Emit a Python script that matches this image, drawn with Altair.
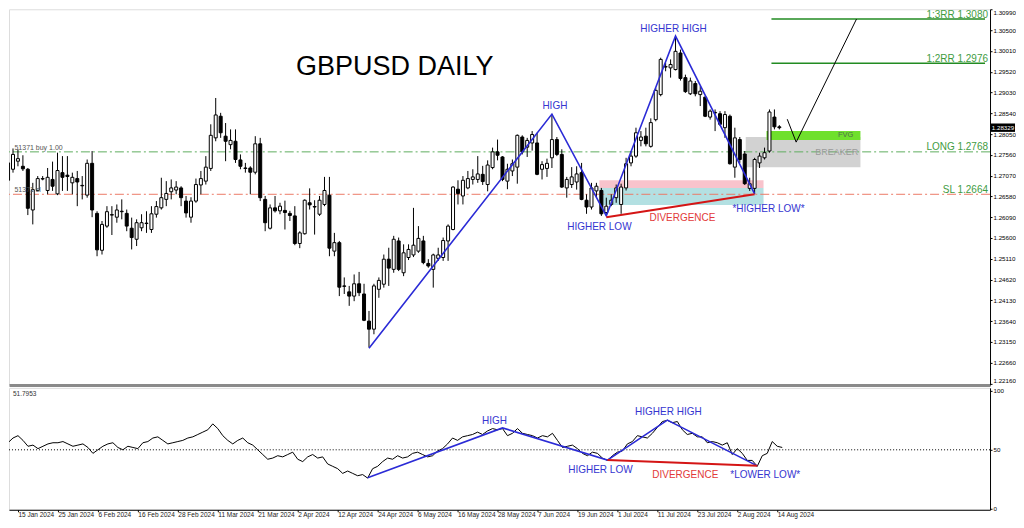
import altair as alt
import pandas as pd

# ---------------- data ----------------
FIRST_INDEX = -3  # trading-day index of first candle (0 = 15 Jan 2024)

OPEN = [1.2696, 1.2722, 1.2741, 1.2729, 1.2722, 1.2626, 1.2672, 1.2699, 1.2672, 1.2698,
        1.2664, 1.2714, 1.2708, 1.2690, 1.2700, 1.2684, 1.2661, 1.2736, 1.2618, 1.2531,
        1.2588, 1.2615, 1.2609, 1.2622, 1.2618, 1.2583, 1.2557, 1.2584, 1.2595, 1.2580,
        1.2616, 1.2631, 1.2651, 1.2669, 1.2673, 1.2678, 1.2647, 1.2609, 1.2647, 1.2685,
        1.2694, 1.2724, 1.2796, 1.2847, 1.2800, 1.2780, 1.2788, 1.2744, 1.2725, 1.2725,
        1.2715, 1.2782, 1.2651, 1.2583, 1.2631, 1.2624, 1.2625, 1.2618, 1.2612, 1.2547,
        1.2570, 1.2643, 1.2634, 1.2616, 1.2639, 1.2661, 1.2529, 1.2549, 1.2447, 1.2433,
        1.2423, 1.2452, 1.2428, 1.2364, 1.2345, 1.2439, 1.2451, 1.2510, 1.2486, 1.2553,
        1.2478, 1.2514, 1.2520, 1.2529, 1.2553, 1.2500, 1.2486, 1.2512, 1.2514, 1.2553,
        1.2580, 1.2675, 1.2659, 1.2678, 1.2698, 1.2698, 1.2710, 1.2686, 1.2726, 1.2763,
        1.2751, 1.2694, 1.2718, 1.2727, 1.2798, 1.2774, 1.2784, 1.2784, 1.2722, 1.2724,
        1.2749, 1.2792, 1.2757, 1.2678, 1.2686, 1.2692, 1.2714, 1.2649, 1.2633, 1.2671,
        1.2672, 1.2620, 1.2639, 1.2655, 1.2639, 1.2678, 1.2737, 1.2753, 1.2790, 1.2800,
        1.2776, 1.2839, 1.2898, 1.2963, 1.2961, 1.2957, 1.2996, 1.2938, 1.2900, 1.2924,
        1.2898, 1.2892, 1.2845, 1.2856, 1.2853, 1.2820, 1.2847, 1.2727, 1.2792, 1.2758,
        1.2677, 1.2677, 1.2737, 1.2749, 1.2765, 1.2845, 1.2822]
HIGH = [1.2745, 1.2771, 1.2769, 1.2755, 1.2725, 1.2690, 1.2706, 1.2706, 1.2725, 1.2740,
        1.2761, 1.2753, 1.2753, 1.2714, 1.2718, 1.2706, 1.2745, 1.2765, 1.2623, 1.2600,
        1.2635, 1.2635, 1.2639, 1.2651, 1.2627, 1.2608, 1.2604, 1.2616, 1.2623, 1.2635,
        1.2647, 1.2702, 1.2694, 1.2698, 1.2694, 1.2682, 1.2659, 1.2656, 1.2700, 1.2718,
        1.2753, 1.2828, 1.2890, 1.2855, 1.2831, 1.2816, 1.2816, 1.2757, 1.2737, 1.2729,
        1.2800, 1.2796, 1.2659, 1.2639, 1.2659, 1.2643, 1.2648, 1.2624, 1.2635, 1.2576,
        1.2651, 1.2677, 1.2649, 1.2659, 1.2704, 1.2704, 1.2572, 1.2553, 1.2467, 1.2447,
        1.2474, 1.2480, 1.2452, 1.2388, 1.2452, 1.2467, 1.2521, 1.2537, 1.2565, 1.2561,
        1.2545, 1.2545, 1.2631, 1.2588, 1.2565, 1.2510, 1.2523, 1.2537, 1.2561, 1.2592,
        1.2682, 1.2696, 1.2706, 1.2718, 1.2722, 1.2753, 1.2730, 1.2743, 1.2773, 1.2792,
        1.2753, 1.2735, 1.2745, 1.2804, 1.2802, 1.2796, 1.2812, 1.2808, 1.2741, 1.2747,
        1.2852, 1.2798, 1.2769, 1.2704, 1.2727, 1.2729, 1.2737, 1.2663, 1.2690, 1.2690,
        1.2678, 1.2655, 1.2663, 1.2686, 1.2688, 1.2749, 1.2765, 1.2820, 1.2812, 1.2820,
        1.2842, 1.2914, 1.2985, 1.2973, 1.2981, 1.3036, 1.3004, 1.2945, 1.2938, 1.2930,
        1.2918, 1.2894, 1.2863, 1.2863, 1.2859, 1.2859, 1.2851, 1.2820, 1.2798, 1.2765,
        1.2702, 1.2749, 1.2761, 1.2773, 1.2863, 1.2863, 1.2826]
LOW = [1.2690, 1.2714, 1.2729, 1.2718, 1.2614, 1.2592, 1.2671, 1.2696, 1.2663, 1.2671,
       1.2661, 1.2671, 1.2671, 1.2663, 1.2635, 1.2651, 1.2655, 1.2609, 1.2517, 1.2521,
       1.2584, 1.2567, 1.2596, 1.2604, 1.2576, 1.2533, 1.2541, 1.2576, 1.2572, 1.2572,
       1.2608, 1.2627, 1.2635, 1.2651, 1.2663, 1.2635, 1.2608, 1.2596, 1.2643, 1.2663,
       1.2686, 1.2718, 1.2788, 1.2796, 1.2741, 1.2769, 1.2737, 1.2722, 1.2714, 1.2663,
       1.2710, 1.2647, 1.2576, 1.2580, 1.2620, 1.2616, 1.2580, 1.2600, 1.2543, 1.2536,
       1.2568, 1.2627, 1.2568, 1.2612, 1.2635, 1.2517, 1.2517, 1.2423, 1.2428, 1.2400,
       1.2411, 1.2423, 1.2364, 1.2302, 1.2333, 1.2419, 1.2443, 1.2447, 1.2478, 1.2482,
       1.2470, 1.2508, 1.2515, 1.2525, 1.2498, 1.2490, 1.2443, 1.2506, 1.2506, 1.2506,
       1.2578, 1.2639, 1.2639, 1.2675, 1.2686, 1.2690, 1.2685, 1.2670, 1.2722, 1.2743,
       1.2694, 1.2675, 1.2706, 1.2688, 1.2757, 1.2751, 1.2766, 1.2708, 1.2698, 1.2704,
       1.2725, 1.2753, 1.2678, 1.2655, 1.2678, 1.2674, 1.2649, 1.2617, 1.2627, 1.2655,
       1.2612, 1.2612, 1.2635, 1.2643, 1.2617, 1.2672, 1.2729, 1.2749, 1.2776, 1.2776,
       1.2773, 1.2835, 1.2894, 1.2953, 1.2938, 1.2955, 1.2931, 1.2902, 1.2897, 1.2894,
       1.2871, 1.2845, 1.2839, 1.2812, 1.2824, 1.2796, 1.2733, 1.2702, 1.2737, 1.2685,
       1.2671, 1.2664, 1.2725, 1.2745, 1.2761, 1.2816, 1.2816]
CLOSE = [1.2737, 1.2757, 1.2747, 1.2723, 1.2630, 1.2674, 1.2700, 1.2700, 1.2703, 1.2682,
         1.2719, 1.2703, 1.2705, 1.2703, 1.2692, 1.2683, 1.2736, 1.2626, 1.2532, 1.2592,
         1.2622, 1.2614, 1.2626, 1.2623, 1.2588, 1.2561, 1.2596, 1.2596, 1.2594, 1.2617,
         1.2634, 1.2655, 1.2665, 1.2678, 1.2680, 1.2655, 1.2619, 1.2647, 1.2686, 1.2700,
         1.2727, 1.2802, 1.2850, 1.2808, 1.2788, 1.2790, 1.2745, 1.2729, 1.2724, 1.2715,
         1.2782, 1.2655, 1.2596, 1.2631, 1.2624, 1.2635, 1.2620, 1.2613, 1.2547, 1.2572,
         1.2649, 1.2638, 1.2633, 1.2649, 1.2672, 1.2536, 1.2549, 1.2444, 1.2446, 1.2423,
         1.2452, 1.2431, 1.2366, 1.2345, 1.2447, 1.2460, 1.2510, 1.2489, 1.2557, 1.2486,
         1.2525, 1.2533, 1.2543, 1.2559, 1.2502, 1.2494, 1.2520, 1.2520, 1.2554, 1.2588,
         1.2680, 1.2665, 1.2696, 1.2700, 1.2704, 1.2711, 1.2693, 1.2732, 1.2763, 1.2755,
         1.2698, 1.2722, 1.2735, 1.2802, 1.2763, 1.2790, 1.2804, 1.2710, 1.2733, 1.2736,
         1.2792, 1.2757, 1.2680, 1.2698, 1.2704, 1.2711, 1.2651, 1.2633, 1.2678, 1.2682,
         1.2617, 1.2635, 1.2649, 1.2678, 1.2680, 1.2735, 1.2753, 1.2808, 1.2798, 1.2782,
         1.2832, 1.2908, 1.2981, 1.2964, 1.2969, 1.3000, 1.2936, 1.2905, 1.2930, 1.2900,
         1.2906, 1.2847, 1.2859, 1.2855, 1.2828, 1.2851, 1.2735, 1.2796, 1.2745, 1.2688,
         1.2688, 1.2745, 1.2753, 1.2761, 1.2857, 1.2822, 1.2820]
RSI = [58, 56, 60, 62, 58, 53, 54, 51, 53, 55,
       56, 56, 57, 55, 53, 54, 55, 52, 47, 50,
       53, 55, 56, 52, 50, 53, 52, 51, 56, 57,
       60, 61, 58, 55, 56, 57, 58, 60, 61, 63,
       65, 67, 72, 68, 62, 58, 55, 58, 60, 56,
       54, 50, 46, 42, 43, 45, 44, 46, 48, 42,
       40, 44, 46, 43, 44, 38, 36, 34, 30, 32,
       30, 28, 29, 26, 34, 36, 40, 43, 42, 45,
       43, 44, 47, 48, 46, 44, 45, 49, 51, 55,
       60, 58, 61, 62, 63, 65, 63, 66, 68, 67,
       68, 62, 64, 68, 64, 63, 62, 60, 62, 61,
       64, 58, 52, 53, 54, 51, 47, 45, 48, 47,
       43, 41, 45, 48, 49, 55, 57, 62, 61, 60,
       64, 69, 74, 75, 73, 74, 67, 63, 64, 61,
       61, 56, 57, 56, 54, 56, 46, 51, 47, 41,
       41, 36, 45, 47, 57, 53, 52]

TICK_IDX = [0, 8, 16, 24, 32, 40, 48, 56, 64, 72, 80, 88, 96, 104, 112, 120, 128, 136, 144, 152]
TICK_LABELS = ["15 Jan 2024", "25 Jan 2024", "6 Feb 2024", "16 Feb 2024", "28 Feb 2024",
               "11 Mar 2024", "21 Mar 2024", "2 Apr 2024", "12 Apr 2024", "24 Apr 2024",
               "6 May 2024", "16 May 2024", "28 May 2024", "7 Jun 2024", "19 Jun 2024",
               "1 Jul 2024", "11 Jul 2024", "23 Jul 2024", "2 Aug 2024", "14 Aug 2024"]
PRICE_TICKS = [1.2216, 1.2266, 1.2315, 1.2364, 1.2413, 1.2462, 1.2511, 1.2560, 1.2609, 1.2658,
               1.2707, 1.2756, 1.2805, 1.2854, 1.2903, 1.2952, 1.3001, 1.3050, 1.3099]
RSI_TICKS = [0, 50, 100]

# price-chart structure
ZZ_I = [70, 107, 118, 132, 148]
ZZ_P = [1.2300, 1.2852, 1.2612, 1.3036, 1.2664]
DIV_I = [118, 148]
DIV_P = [1.2609, 1.2663]
PROJ_I = [154.6, 156.4, 168.6]
PROJ_P = [1.2840, 1.2786, 1.3076]

ZONE_X1 = [116.6, 116.6, 146.2, 150.4]
ZONE_X2 = [149.8, 149.8, 169.4, 169.4]
ZONE_P1 = [1.2696, 1.2678, 1.2798, 1.2812]
ZONE_P2 = [1.2678, 1.2638, 1.2727, 1.2791]
ZONE_COL = ["#f8c3cc", "#b3e0e2", "#d2d2d2", "#6fe02c"]

LEVEL_P = [1.2763, 1.2663]          # drawn positions of LONG / SL lines
LEVEL_COL = ["#5fae5f", "#ec7a66"]
LEVEL_TAG = ["51371 buy 1.00", "51371 sl"]
RR_P = [1.3076, 1.2972]              # drawn positions of the 1:3 / 1:2 RR lines
RR_X1 = [151.4, 151.4]
RIGHT_LABEL_P = [1.3076, 1.2972, 1.2763, 1.2663]
RIGHT_LABEL_T = ["1:3RR 1.3080", "1:2RR 1.2976", "LONG 1.2768", "SL 1.2664"]

ANN_T = ["HIGH", "HIGHER HIGH", "HIGHER LOW", "DIVERGENCE", "*HIGHER LOW*", "BREAKER", "FVG"]
ANN_I = [107.6, 131.6, 116.6, 133.4, 150.8, 164.6, 166.4]
ANN_P = [1.2871, 1.3052, 1.2586, 1.2607, 1.2628, 1.2762, 1.2802]
ANN_C = ["#3535d0", "#3535d0", "#3535d0", "#e23a3a", "#3535d0", "#9a9a9a", "#4f6f4f"]
ANN_S = [10, 10, 10, 10, 10, 9, 7.5]

TITLE_T = ["GBPUSD DAILY"]
TITLE_I = [75.2]
TITLE_P = [1.2963]

LAST_P = [1.2820]
LAST_T = ["1.28329"]

# RSI structure
RZ_I = [70, 97, 118, 130, 148]
RZ_V = [26.4, 68.6, 41.3, 75.2, 36.4]
RDIV_I = [118, 148]
RDIV_V = [41.3, 36.4]
RANN_T = ["HIGH", "HIGHER HIGH", "HIGHER LOW", "DIVERGENCE", "*LOWER LOW*"]
RANN_I = [95.4, 130.2, 116.6, 133.6, 149.6]
RANN_V = [74.4, 81.8, 33.1, 28.9, 28.9]
RANN_C = ["#3535d0", "#3535d0", "#3535d0", "#e23a3a", "#3535d0"]
RSI_NAME = ["51.7953"]
RSI_NAME_I = [-1.0]
RSI_NAME_V = [97.5]

# ---------------- layout ----------------
W = 982
H_MAIN = 376
H_RSI = 122
FONT = "Liberation Sans"
BLUE = "#2b2bd6"
X_MIN = -1.8
X_MAX = 194.6

n = len(OPEN)
candles = pd.DataFrame({
    "i": list(range(FIRST_INDEX, FIRST_INDEX + n)),
    "o": OPEN, "h": HIGH, "l": LOW, "c": CLOSE, "rsi": RSI,
})
candles["dir"] = ["up" if c >= o else "down" for o, c in zip(OPEN, CLOSE)]

xs = alt.Scale(domain=[X_MIN, X_MAX], nice=False, zero=False)
ys = alt.Scale(domain=[1.22137, 1.30992], nice=False, zero=False)
rs = alt.Scale(domain=[-0.85, 102.54], nice=False, zero=False)

XAX_MAIN = alt.Axis(title=None, labels=False, ticks=False, grid=False,
                    domainColor="#8a8a8a", domainWidth=3)
YAX_MAIN = alt.Axis(title=None, orient="right", values=PRICE_TICKS, format=".5f", grid=False,
                    domainColor="black", tickColor="black", tickSize=2, labelPadding=1,
                    labelFontSize=6.2, labelColor="black", labelFont=FONT, labelFlush=3)

label_expr = ("[" + ",".join("'%s'" % t for t in TICK_LABELS) + "][indexof(["
              + ",".join(str(v) for v in TICK_IDX) + "], datum.value)]")
XAX_RSI = alt.Axis(title=None, values=TICK_IDX, labelExpr=label_expr, grid=False,
                   domainColor="black", tickColor="black", tickSize=2, labelAlign="left",
                   labelPadding=0, labelFontSize=6.5, labelColor="#222222", labelFont=FONT,
                   labelOverlap=False, labelFlush=False)
YAX_RSI = alt.Axis(title=None, orient="right", values=RSI_TICKS, format="d", grid=False,
                   domainColor="black", tickColor="black", tickSize=2, labelPadding=1,
                   labelFontSize=6.2, labelColor="black", labelFont=FONT, labelFlush=False)


def xm(f):
    return alt.X(f, type="quantitative", scale=xs, axis=XAX_MAIN)


def ym(f):
    return alt.Y(f, type="quantitative", scale=ys, axis=YAX_MAIN)


def xr(f):
    return alt.X(f, type="quantitative", scale=xs, axis=XAX_RSI)


def yr(f):
    return alt.Y(f, type="quantitative", scale=rs, axis=YAX_RSI)


# ---------------- main price panel ----------------
zones = pd.DataFrame({"x1": ZONE_X1, "x2": ZONE_X2, "p1": ZONE_P1, "p2": ZONE_P2, "col": ZONE_COL})
zone_layer = alt.Chart(zones).mark_rect(clip=True).encode(
    x=xm("x1"), x2="x2", y=ym("p1"), y2="p2", color=alt.Color("col:N", scale=None))

levels = pd.DataFrame({"p": LEVEL_P, "col": LEVEL_COL, "t": LEVEL_TAG, "i": [-1.7, -1.7]})
level_layer = alt.Chart(levels).mark_rule(strokeDash=[9, 3, 2, 3], strokeWidth=1).encode(
    y=ym("p"), color=alt.Color("col:N", scale=None))
level_tag_layer = alt.Chart(levels).mark_text(
    align="left", baseline="bottom", dy=-1, fontSize=7, font=FONT, color="#555555"
).encode(x=xm("i"), y=ym("p"), text="t:N")

rr = pd.DataFrame({"x1": RR_X1, "x2": [X_MAX, X_MAX], "p": RR_P})
rr_layer = alt.Chart(rr).mark_rule(color="#228b22", strokeWidth=1.5).encode(
    x=xm("x1"), x2="x2", y=ym("p"))

wick_layer = alt.Chart(candles).mark_rule(color="black", strokeWidth=1, clip=True).encode(
    x=xm("i"), y=ym("l"), y2="h")
body_layer = alt.Chart(candles).mark_bar(width=3, stroke="black", strokeWidth=1, clip=True).encode(
    x=xm("i"), y=ym("o"), y2="c",
    fill=alt.Fill("dir:N", scale=alt.Scale(domain=["up", "down"], range=["white", "black"]), legend=None))

zz = pd.DataFrame({"i": ZZ_I, "p": ZZ_P})
zz_layer = alt.Chart(zz).mark_line(color=BLUE, strokeWidth=1.6).encode(x=xm("i"), y=ym("p"))
div = pd.DataFrame({"i": DIV_I, "p": DIV_P})
div_layer = alt.Chart(div).mark_line(color="#d41515", strokeWidth=2).encode(x=xm("i"), y=ym("p"))
proj = pd.DataFrame({"i": PROJ_I, "p": PROJ_P})
proj_layer = alt.Chart(proj).mark_line(color="black", strokeWidth=1).encode(x=xm("i"), y=ym("p"))

ann = pd.DataFrame({"i": ANN_I, "p": ANN_P, "t": ANN_T, "col": ANN_C, "s": ANN_S})
ann_layer = alt.Chart(ann).mark_text(align="center", baseline="middle", font=FONT).encode(
    x=xm("i"), y=ym("p"), text="t:N", color=alt.Color("col:N", scale=None),
    size=alt.Size("s:Q", scale=None))

title_df = pd.DataFrame({"i": TITLE_I, "p": TITLE_P, "t": TITLE_T})
title_layer = alt.Chart(title_df).mark_text(
    align="center", baseline="middle", font=FONT, fontSize=27, color="black").encode(
    x=xm("i"), y=ym("p"), text="t:N")

right_df = pd.DataFrame({"p": RIGHT_LABEL_P, "t": RIGHT_LABEL_T})
right_layer = alt.Chart(right_df).mark_text(
    align="right", baseline="alphabetic", dy=-1.5, font=FONT, fontSize=10, color="#3f9c3f").encode(
    x=alt.value(W - 2), y=ym("p"), text="t:N")

last_df = pd.DataFrame({"p": LAST_P, "t": LAST_T})
box_layer = alt.Chart(last_df).mark_point(
    shape="M-1,-0.35L1,-0.35L1,0.35L-1,0.35Z", filled=True, color="black", opacity=1, size=576
).encode(x=alt.value(W + 13), y=ym("p"))
box_text = alt.Chart(last_df).mark_text(
    align="center", baseline="middle", font=FONT, fontSize=6.2, color="white").encode(
    x=alt.value(W + 13), y=ym("p"), text="t:N")

main = alt.layer(
    zone_layer, level_layer, rr_layer, wick_layer, body_layer, zz_layer, div_layer,
    proj_layer, ann_layer, title_layer, right_layer, level_tag_layer, box_layer, box_text
).properties(width=W, height=H_MAIN)

# ---------------- RSI panel ----------------
mid_df = pd.DataFrame({"v": [50]})
mid_layer = alt.Chart(mid_df).mark_rule(color="black", strokeDash=[1, 2], strokeWidth=1).encode(y=yr("v"))
rsi_layer = alt.Chart(candles).mark_line(color="black", strokeWidth=1, clip=True).encode(
    x=xr("i"), y=yr("rsi"))
rz = pd.DataFrame({"i": RZ_I, "v": RZ_V})
rz_layer = alt.Chart(rz).mark_line(color=BLUE, strokeWidth=1.6).encode(x=xr("i"), y=yr("v"))
rdiv = pd.DataFrame({"i": RDIV_I, "v": RDIV_V})
rdiv_layer = alt.Chart(rdiv).mark_line(color="#d41515", strokeWidth=2).encode(x=xr("i"), y=yr("v"))
rann = pd.DataFrame({"i": RANN_I, "v": RANN_V, "t": RANN_T, "col": RANN_C})
rann_layer = alt.Chart(rann).mark_text(align="center", baseline="middle", font=FONT, fontSize=10).encode(
    x=xr("i"), y=yr("v"), text="t:N", color=alt.Color("col:N", scale=None))
rname = pd.DataFrame({"i": RSI_NAME_I, "v": RSI_NAME_V, "t": RSI_NAME})
rname_layer = alt.Chart(rname).mark_text(
    align="left", baseline="middle", font=FONT, fontSize=6.5, color="#333333").encode(
    x=xr("i"), y=yr("v"), text="t:N")

rsi = alt.layer(mid_layer, rsi_layer, rz_layer, rdiv_layer, rann_layer, rname_layer).properties(
    width=W, height=H_RSI)

chart = alt.vconcat(main, rsi, spacing=3, bounds="flush").properties(
    padding={"left": 0, "top": 0, "right": 0, "bottom": 0}
).configure_view(strokeWidth=0).configure(background="white")

chart.save("out.html", embed_options={"renderer": "svg", "actions": False})
